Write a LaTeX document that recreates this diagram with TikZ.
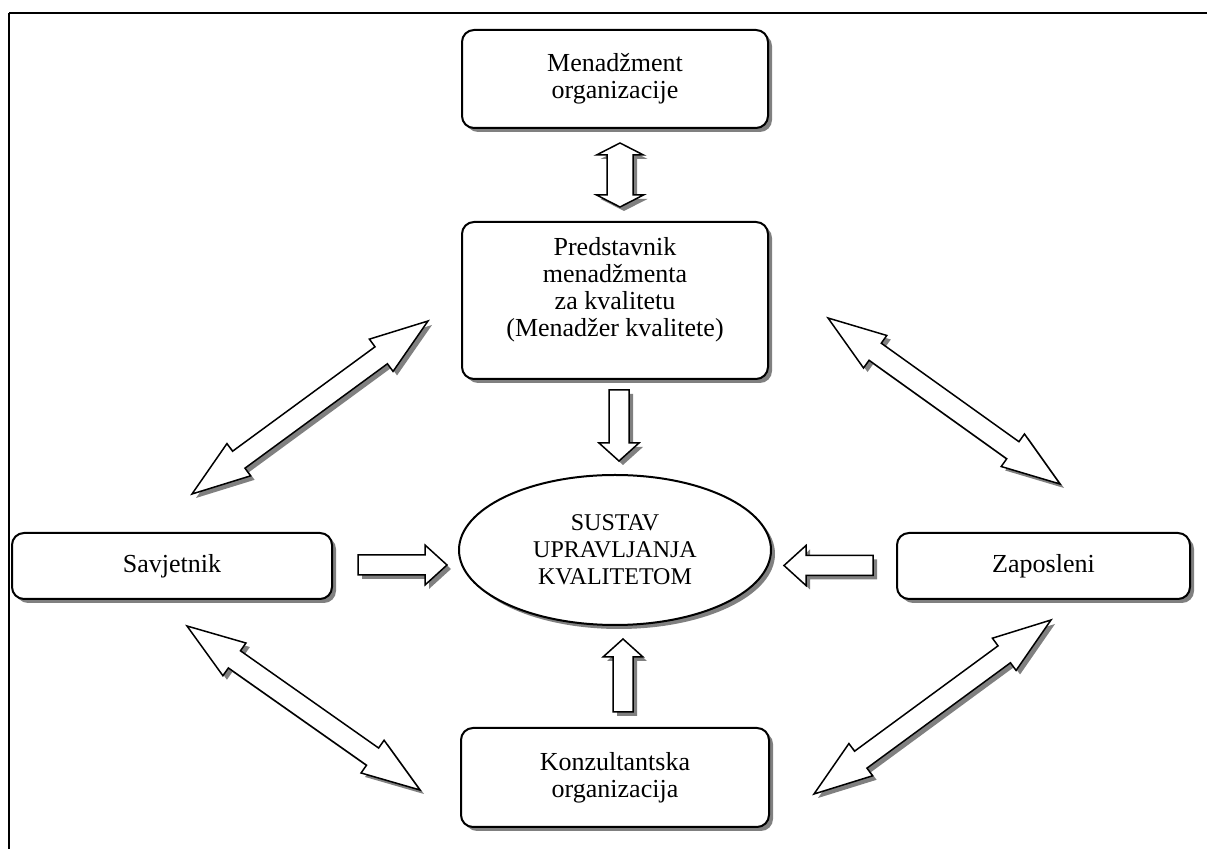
\documentclass[tikz,border=0pt]{standalone}
\usepackage{fontspec}
\setmainfont{Liberation Serif}
\usetikzlibrary{calc,shapes.geometric,shadows}

\newcommand{\twoway}[5]{%
  \draw[blockarrow] (#1)
    -- ($(#1)!#5!(#2)!#4!90:(#2)$)
    -- ($(#1)!#5!(#2)!#3!90:(#2)$)
    -- ($(#2)!#5!(#1)!#3!-90:(#1)$)
    -- ($(#2)!#5!(#1)!#4!-90:(#1)$)
    -- (#2)
    -- ($(#2)!#5!(#1)!#4!90:(#1)$)
    -- ($(#2)!#5!(#1)!#3!90:(#1)$)
    -- ($(#1)!#5!(#2)!#3!-90:(#2)$)
    -- ($(#1)!#5!(#2)!#4!-90:(#2)$)
    -- cycle;}
\newcommand{\oneway}[5]{%
  \draw[blockarrow] ($(#1)!#3!90:(#2)$)
    -- ($(#2)!#5!(#1)!#3!-90:(#1)$)
    -- ($(#2)!#5!(#1)!#4!-90:(#1)$)
    -- (#2)
    -- ($(#2)!#5!(#1)!#4!90:(#1)$)
    -- ($(#2)!#5!(#1)!#3!90:(#1)$)
    -- ($(#1)!#3!-90:(#2)$)
    -- cycle;}

\begin{document}
\begin{tikzpicture}[x=0.5pt, y=-0.5pt,
    dropgray/.style={drop shadow={shadow xshift=2pt, shadow yshift=-2pt, fill=black!50, opacity=1}},
    box/.style={draw, line width=1pt, rounded corners=6pt, fill=white, align=center, inner sep=0pt,
      font=\fontsize{13}{13.5}\selectfont, dropgray},
    oval/.style={draw, ellipse, line width=1pt, fill=white, align=center, inner sep=0pt,
      font=\fontsize{12}{13.5}\selectfont, dropgray},
    blockarrow/.style={draw, fill=white, line width=0.75pt, line join=miter, dropgray}]
  \useasboundingbox (0,0) rectangle (1207,849);
  \draw[line width=1pt] (9,13) -- (1207,13);
  \draw[line width=0.8pt] (9,13) -- (9,849);

  \node[box, minimum width=153pt, minimum height=49pt] (mgmt) at (615,79) {Menadžment\\organizacije};
  \node[box, minimum width=153pt, minimum height=78.5pt, text depth=14pt] (rep) at (615,300.5) {Predstavnik\\menadžmenta\\za kvalitetu\\(Menadžer kvalitete)};
  \node[oval, minimum width=156pt, minimum height=75pt] (sys) at (615,550) {SUSTAV\\UPRAVLJANJA\\KVALITETOM};
  \node[box, minimum width=160pt, minimum height=33pt] (adv) at (172,566) {Savjetnik};
  \node[box, minimum width=146.5pt, minimum height=33pt] (staff) at (1043.5,566) {Zaposleni};
  \node[box, minimum width=154pt, minimum height=49.5pt] (cons) at (615,777.5) {Konzultantska\\organizacija};

  \coordinate (t1) at (620,143);
  \coordinate (t2) at (620,207);
  \coordinate (d1) at (619,390);
  \coordinate (d2) at (619,461);
  \coordinate (u1) at (623,712);
  \coordinate (u2) at (623,639);
  \coordinate (r1) at (358,565);
  \coordinate (r2) at (447,565);
  \coordinate (l1) at (873,565.5);
  \coordinate (l2) at (784,565.5);
  \coordinate (ul1) at (192,494);
  \coordinate (ul2) at (428,321);
  \coordinate (ur1) at (828,318);
  \coordinate (ur2) at (1060,484);
  \coordinate (ll1) at (187,626);
  \coordinate (ll2) at (420,790);
  \coordinate (lr1) at (814,794);
  \coordinate (lr2) at (1051,620);

  \twoway{t1}{t2}{6.5pt}{11.75pt}{6pt}
  \oneway{d1}{d2}{5pt}{10pt}{9pt}
  \oneway{u1}{u2}{5pt}{10pt}{9pt}
  \oneway{r1}{r2}{5pt}{10pt}{11pt}
  \oneway{l1}{l2}{5pt}{10pt}{11pt}
  \twoway{ul1}{ul2}{5.25pt}{10pt}{29pt}
  \twoway{ur1}{ur2}{5.25pt}{10pt}{29pt}
  \twoway{ll1}{ll2}{5.25pt}{10pt}{29pt}
  \twoway{lr1}{lr2}{5.25pt}{10pt}{29pt}
\end{tikzpicture}
\end{document}
